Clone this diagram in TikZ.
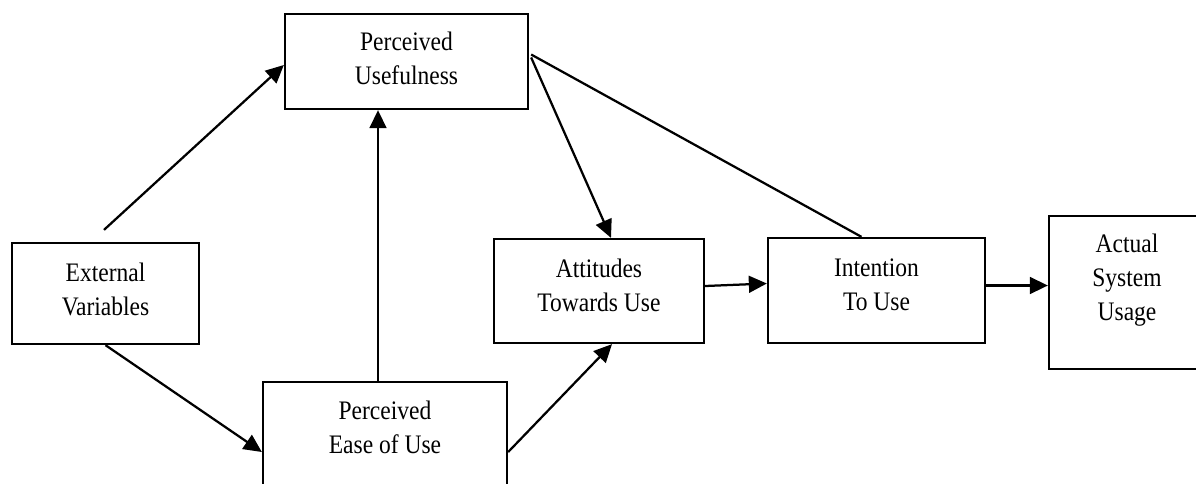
\documentclass[tikz,border=0pt]{standalone}
\usepackage{fontspec}
\setmainfont[FakeStretch=0.88]{Liberation Serif}
\usetikzlibrary{arrows.meta}
\usetikzlibrary{calc}

\newcommand{\TAMLineWidth}{1.6pt}
\newcommand{\TAMLift}[1]{\rule[-#1]{0pt}{#1}}

\tikzset{
  tamBox/.style={draw, line width=\TAMLineWidth, align=center, inner sep=0pt,
    font=\fontsize{19}{24}\selectfont},
  tamLine/.style={line width=\TAMLineWidth},
  tamArrow/.style={tamLine, -{Triangle[length=0.45cm,width=0.42cm]}}
}

\begin{document}
\begin{tikzpicture}[x=0.025cm,y=-0.025cm]
\clip (0,0) rectangle (1196,483);
\fill[white] (0,0) rectangle (1196,483);

\node[tamBox, minimum width=6.075cm, minimum height=2.375cm] (pu) at (406.5,61.5) {Perceived\\Usefulness\TAMLift{5pt}};
\node[tamBox, minimum width=4.675cm, minimum height=2.525cm] (ev) at (105.5,293.5) {External\\Variables\TAMLift{6pt}};
\node[tamBox, minimum width=6.1cm, minimum height=2.75cm] (peou) at (385,437) {Perceived\\Ease of Use\TAMLift{14pt}};
\node[tamBox, minimum width=5.25cm, minimum height=2.6cm] (att) at (599,291) {Attitudes\\Towards Use\TAMLift{8pt}};
\node[tamBox, minimum width=5.425cm, minimum height=2.625cm] (int) at (876.5,290.5) {Intention\\To Use\TAMLift{8pt}};
\node[tamBox, minimum width=3.9cm, minimum height=3.825cm] (act) at (1127,292.5) {Actual\\System\\Usage\TAMLift{22pt}};

\coordinate (evTop) at ($(ev.north)+(-1.5,-12)$);
\draw[tamArrow] (evTop) -- ($(pu.west)+(0,3.5)$);
\draw[tamArrow] (ev.south) -- ($(peou.west)+(0,15)$);
\draw[tamArrow] ($(peou.north)+(-7,0)$) -- ($(pu.south)+(-28.5,0)$);
\draw[tamArrow] ($(pu.east)+(2,-4)$) -- ($(att.north)+(12,0)$);
\draw[tamArrow] ($(peou.east)+(0,15)$) -- ($(att.south)+(13,0)$);
\draw[tamLine] ($(pu.east)+(2,-7)$) -- ($(int.north)+(-15,0)$);
\draw[tamArrow] ($(att.east)+(0,-5)$) -- ($(int.west)+(0,-7)$);
\draw[tamArrow] ($(int.east)+(0,-5)$) -- ($(act.west)+(0,-7)$);

\end{tikzpicture}
\end{document}
